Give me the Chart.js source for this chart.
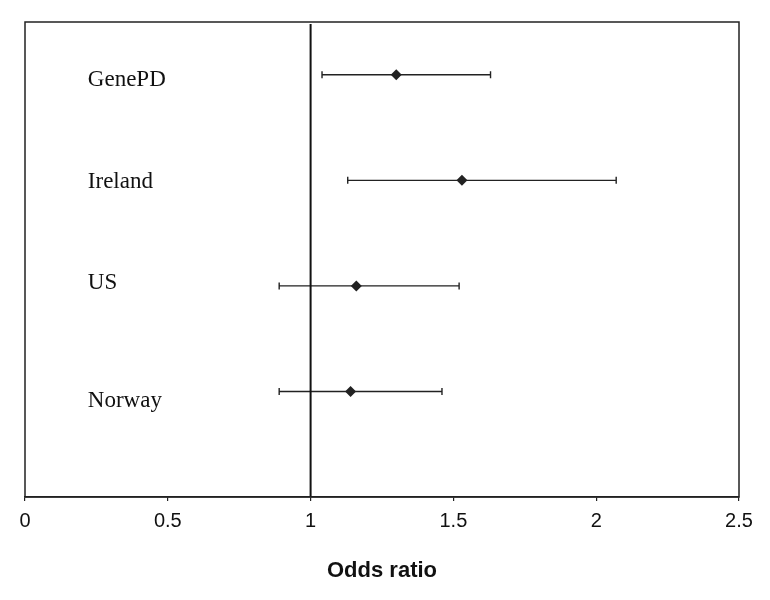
<!DOCTYPE html>
<html>
<head>
<meta charset="utf-8">
<script src="https://cdn.jsdelivr.net/npm/chart.js@4"></script>
<style>
  html, body { margin: 0; padding: 0; background: #fff; }
  #wrap { width: 770px; height: 600px; }
</style>
</head>
<body>
<div id="wrap"><canvas id="forest"></canvas></div>
<script>
// Studies, top to bottom, with odds ratio and 95% CI
const studies = ['GenePD', 'Ireland', 'US', 'Norway'];
const rows = [4, 3, 2, 1];
const oddsRatio = [1.30, 1.53, 1.16, 1.14];
const ciLow = [1.04, 1.13, 0.89, 0.89];
const ciHigh = [1.63, 2.07, 1.52, 1.46];
const labelRows = [3.95, 2.98, 2.03, 0.91];
const labelX = 0.22;
const xTicks = [0, 0.5, 1, 1.5, 2, 2.5];

// Border around the plot area
const frame = {
    id: 'frame',
    afterDraw(chart) {
        const { ctx, chartArea: a } = chart;
        ctx.save();
        ctx.strokeStyle = '#222';
        ctx.lineWidth = 1.5;
        ctx.strokeRect(a.left, a.top, a.right - a.left, a.bottom - a.top);
        ctx.restore();
    }
};

// Confidence interval whiskers with end caps
const whiskers = {
    id: 'whiskers',
    beforeDatasetsDraw(chart) {
        const { ctx, scales: { x, y } } = chart;
        ctx.save();
        ctx.strokeStyle = '#222';
        ctx.lineWidth = 1.4;
        rows.forEach((r, i) => {
            const py = y.getPixelForValue(r);
            const x0 = x.getPixelForValue(ciLow[i]);
            const x1 = x.getPixelForValue(ciHigh[i]);
            ctx.beginPath();
            ctx.moveTo(x0, py);
            ctx.lineTo(x1, py);
            ctx.moveTo(x0, py - 3.5);
            ctx.lineTo(x0, py + 3.5);
            ctx.moveTo(x1, py - 3.5);
            ctx.lineTo(x1, py + 3.5);
            ctx.stroke();
        });
        ctx.restore();
    }
};

// Study names written inside the plot
const studyLabels = {
    id: 'studyLabels',
    afterDatasetsDraw(chart) {
        const { ctx, scales: { x, y } } = chart;
        ctx.save();
        ctx.fillStyle = '#111';
        ctx.font = '23px "Liberation Serif", "Times New Roman", serif';
        ctx.textBaseline = 'middle';
        ctx.textAlign = 'left';
        studies.forEach((name, i) => {
            ctx.fillText(name, x.getPixelForValue(labelX), y.getPixelForValue(labelRows[i]));
        });
        ctx.restore();
    }
};

new Chart(document.getElementById('forest'), {
    type: 'scatter',
    data: {
        datasets: [
            {
                label: 'Odds ratio',
                data: rows.map((r, i) => ({ x: oddsRatio[i], y: r })),
                pointStyle: 'rectRot',
                pointRadius: 5.5,
                backgroundColor: '#222',
                borderColor: '#222',
                borderWidth: 0
            },
            {
                label: 'No effect',
                type: 'line',
                data: [{ x: 1, y: 0 }, { x: 1, y: 4.48 }],
                borderColor: '#111',
                borderWidth: 2,
                pointRadius: 0,
                fill: false
            }
        ]
    },
    options: {
        responsive: true,
        maintainAspectRatio: false,
        animation: false,
        layout: { padding: { left: 25, right: 31, top: 22, bottom: 0 } },
        plugins: {
            legend: { display: false },
            tooltip: { enabled: false }
        },
        scales: {
            x: {
                type: 'linear',
                min: 0,
                max: 2.5,
                afterBuildTicks: (scale) => {
                    scale.ticks = xTicks.map(v => ({ value: v }));
                },
                afterFit: (scale) => { scale.height = 103; },
                grid: {
                    display: true,
                    drawOnChartArea: false,
                    drawTicks: true,
                    tickLength: 4,
                    color: '#222',
                    lineWidth: 1.2
                },
                border: { display: true, color: '#222', width: 1.5 },
                ticks: {
                    color: '#111',
                    padding: 8,
                    maxRotation: 0,
                    font: { family: '"Liberation Sans", Arial, sans-serif', size: 20 },
                    callback: (v) => String(v)
                },
                title: {
                    display: true,
                    text: 'Odds ratio',
                    color: '#111',
                    padding: { top: 0, bottom: 16 },
                    font: { family: '"Liberation Sans", Arial, sans-serif', size: 22, weight: 'bold' }
                }
            },
            y: {
                type: 'linear',
                display: false,
                min: 0,
                max: 4.5
            }
        }
    },
    plugins: [frame, whiskers, studyLabels]
});
</script>
</body>
</html>
